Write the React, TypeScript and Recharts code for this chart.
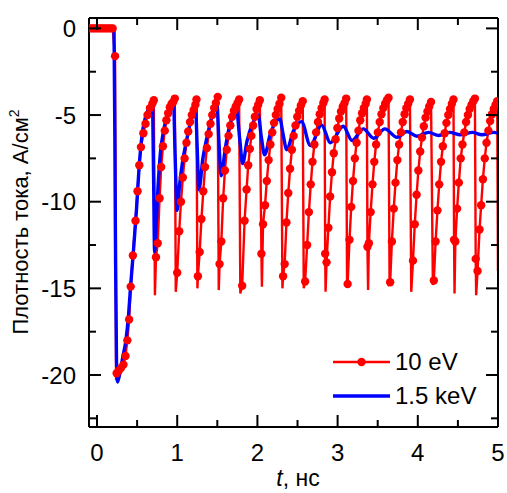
import { ComposedChart, Line, XAxis, YAxis, Legend } from 'recharts';

document.body.style.margin = '0';

const xMajorTicks = [0, 1, 2, 3, 4, 5];
const xMinorTicks = [0.5, 1.5, 2.5, 3.5, 4.5];
const yMajorTicks = [0, -5, -10, -15, -20];
const yMinorTicks = [-2.5, -7.5, -12.5, -17.5, -22.5];

// 10 eV: sampled points (drawn with markers)
const redDots: [number, number][] = [
  [-0.08, 0], [-0.055, 0], [-0.03, 0], [-0.005, 0], [0.02, 0], [0.045, 0], [0.07, 0], [0.095, 0],
  [0.12, 0], [0.145, 0], [0.17, 0], [0.195, 0], [0.225, -1.6], [0.245, -19.9], [0.27, -19.75],
  [0.298, -19.6], [0.33, -19.4], [0.355, -18.9], [0.378, -18.0], [0.4, -16.8], [0.42, -14.9],
  [0.447, -13.1], [0.48, -11.1], [0.505, -9.4], [0.527, -7.9], [0.548, -6.85], [0.578, -6.05],
  [0.605, -5.5], [0.63, -5.0], [0.66, -4.6], [0.69, -4.35], [0.708, -4.15],
  [0.735, -13.2], [0.757, -12.4], [0.78, -9.8], [0.8, -8.0], [0.822, -6.8], [0.845, -5.9],
  [0.865, -5.3], [0.887, -4.9], [0.908, -4.55], [0.93, -4.35], [0.95, -4.25], [0.97, -4.05],
  [1.0, -14.1], [1.025, -11.7], [1.047, -10.0], [1.07, -8.6], [1.092, -7.5], [1.115, -6.6],
  [1.137, -5.95], [1.16, -5.4], [1.182, -5.0], [1.205, -4.7], [1.227, -4.4], [1.24, -4.1],
  [1.258, -14.3], [1.28, -12.9], [1.302, -11.0], [1.325, -9.4], [1.347, -8.0], [1.37, -6.9],
  [1.392, -6.1], [1.415, -5.5], [1.437, -5.0], [1.46, -4.6], [1.482, -4.3], [1.505, -3.95],
  [1.528, -13.6], [1.55, -12.3], [1.573, -9.8], [1.595, -8.2], [1.618, -7.0], [1.64, -6.2],
  [1.662, -5.6], [1.685, -5.1], [1.707, -4.75], [1.73, -4.5], [1.752, -4.3], [1.772, -4.1],
  [1.81, -14.85], [1.84, -11.1], [1.865, -9.3], [1.885, -7.9], [1.906, -6.95], [1.925, -6.2],
  [1.947, -5.6], [1.968, -5.1], [1.99, -4.65], [2.01, -4.4], [2.03, -4.15],
  [2.05, -13.0], [2.07, -11.3], [2.095, -10.2], [2.117, -8.8], [2.14, -7.6], [2.162, -6.7],
  [2.185, -6.0], [2.207, -5.45], [2.23, -5.0], [2.252, -4.65], [2.275, -4.35], [2.297, -4.0],
  [2.32, -14.3], [2.34, -13.6], [2.362, -11.2], [2.385, -9.5], [2.407, -8.1], [2.43, -7.0],
  [2.452, -6.2], [2.475, -5.6], [2.497, -5.1], [2.52, -4.75], [2.542, -4.45], [2.565, -4.2],
  [2.595, -14.6], [2.62, -12.5], [2.642, -10.6], [2.665, -9.0], [2.687, -7.7], [2.71, -6.7],
  [2.732, -6.0], [2.755, -5.4], [2.777, -4.95], [2.8, -4.6], [2.822, -4.3], [2.838, -4.1],
  [2.845, -13.0], [2.862, -13.5], [2.885, -11.5], [2.907, -9.7], [2.93, -8.3], [2.952, -7.2],
  [2.975, -6.4], [2.997, -5.75], [3.02, -5.2], [3.042, -4.8], [3.065, -4.5], [3.087, -4.3], [3.107, -4.05],
  [3.125, -14.75], [3.148, -12.2], [3.17, -10.3], [3.192, -8.8], [3.215, -7.5], [3.237, -6.6],
  [3.26, -5.9], [3.282, -5.3], [3.305, -4.9], [3.327, -4.6], [3.35, -4.35], [3.365, -4.1],
  [3.372, -12.6], [3.39, -12.4], [3.412, -10.6], [3.435, -9.0], [3.457, -7.7], [3.48, -6.7],
  [3.502, -6.0], [3.525, -5.4], [3.547, -4.95], [3.57, -4.6], [3.592, -4.35], [3.615, -4.15], [3.635, -4.0],
  [3.655, -14.65], [3.677, -12.3], [3.7, -10.4], [3.722, -8.9], [3.745, -7.6], [3.767, -6.7],
  [3.79, -6.0], [3.812, -5.4], [3.835, -4.95], [3.857, -4.6], [3.88, -4.35], [3.902, -4.1],
  [3.94, -13.4], [3.962, -11.3], [3.985, -9.6], [4.007, -8.2], [4.03, -7.1], [4.052, -6.3],
  [4.075, -5.65], [4.097, -5.15], [4.12, -4.8], [4.142, -4.5], [4.165, -4.25],
  [4.2, -14.55], [4.222, -12.3], [4.245, -10.5], [4.267, -9.0], [4.29, -7.7], [4.312, -6.8],
  [4.335, -6.05], [4.357, -5.45], [4.38, -5.0], [4.402, -4.65], [4.425, -4.35], [4.445, -4.1],
  [4.452, -12.2], [4.468, -12.3], [4.49, -10.4], [4.512, -8.9], [4.535, -7.5], [4.557, -6.7],
  [4.58, -6.0], [4.602, -5.4], [4.625, -5.0], [4.647, -4.65], [4.67, -4.4], [4.692, -4.2], [4.712, -4.05],
  [4.722, -13.3], [4.745, -14.0], [4.77, -11.6], [4.79, -10.2], [4.812, -8.7], [4.835, -7.5],
  [4.857, -6.6], [4.88, -5.9], [4.902, -5.35], [4.925, -4.95], [4.947, -4.65], [4.97, -4.4], [4.99, -4.2],
];

// 10 eV: bottoms of the sharp drops (line only, no marker)
const redSpikes: [number, number][] = [
  [0.238, -20.3], [0.722, -15.4], [0.982, -15.2], [1.252, -15.0], [1.518, -15.1], [1.787, -15.3],
  [2.056, -14.9], [2.312, -15.0], [2.578, -15.0], [2.85, -15.2], [3.118, -14.9], [3.38, -15.1],
  [3.648, -14.7], [3.918, -15.2], [4.188, -14.8], [4.458, -15.3], [4.728, -15.4], [5.0, -14.0],
];

// 1.5 keV
const bluePoints: [number, number][] = [
  [-0.08, 0], [0.212, 0], [0.228, -11], [0.243, -19.2], [0.256, -20.4], [0.285, -19.9], [0.32, -19.0],
  [0.36, -18.0], [0.39, -16.7], [0.42, -14.8], [0.455, -12.8], [0.49, -10.6], [0.525, -8.0],
  [0.56, -6.2], [0.6, -5.2], [0.645, -4.6], [0.69, -4.3], [0.705, -8.5], [0.718, -12.9],
  [0.735, -11.6], [0.76, -9.2], [0.79, -7.2], [0.83, -5.9], [0.87, -5.1], [0.91, -4.5],
  [0.952, -4.1], [0.975, -7.5], [0.998, -10.5], [1.03, -9.0], [1.07, -7.6], [1.115, -6.5],
  [1.17, -5.3], [1.225, -4.2], [1.25, -7.0], [1.27, -9.3], [1.32, -7.5], [1.385, -6.0],
  [1.44, -4.95], [1.495, -4.35], [1.52, -6.5], [1.548, -8.5], [1.6, -6.9], [1.66, -5.5],
  [1.74, -4.75], [1.78, -6.4], [1.815, -7.8], [1.87, -6.5], [1.94, -5.5], [2.01, -5.0],
  [2.05, -6.3], [2.09, -7.3], [2.16, -6.1], [2.28, -5.22], [2.32, -6.1], [2.365, -7.0],
  [2.45, -5.9], [2.55, -5.38], [2.66, -6.76], [2.8, -5.57], [2.91, -6.6], [3.07, -5.65],
  [3.18, -6.47], [3.32, -5.8], [3.45, -6.34], [3.59, -5.8], [3.74, -6.28], [3.865, -5.95],
  [3.99, -6.22], [4.135, -6.0], [4.26, -6.18], [4.4, -6.0], [4.53, -6.14], [4.68, -6.0],
  [4.8, -6.14], [4.95, -6.0], [5.0, -6.05],
];

const toRows = (pts: [number, number][]) => pts.map(([t, v]) => ({ t, v }));
const redDotRows = toRows(redDots);
const redLineRows = toRows([...redDots, ...redSpikes].sort((a, b) => a[0] - b[0]));
const blueRows = toRows(bluePoints);

const xTicks = [...xMajorTicks, ...xMinorTicks].sort((a, b) => a - b);
const yTicks = [...yMajorTicks, ...yMinorTicks].sort((a, b) => b - a);

const FONT = 'Liberation Sans, Arial, sans-serif';
const RED = '#ff0000';
const BLUE = '#0000ff';

const isMajorX = (v: number) => xMajorTicks.includes(v);
const isMajorY = (v: number) => yMajorTicks.includes(v);

const BottomTick = ({ x, y, payload }: any) => {
  const major = isMajorX(payload.value);
  return (
    <g>
      <line x1={x} x2={x} y1={y} y2={y - (major ? 12 : 7)} stroke="#000" strokeWidth={2} />
      {major && (
        <text x={x} y={y + 34} textAnchor="middle" fontSize={24} fontFamily={FONT} fill="#000">
          {payload.value}
        </text>
      )}
    </g>
  );
};

const TopTick = ({ x, y, payload }: any) => {
  const major = isMajorX(payload.value);
  return <line x1={x} x2={x} y1={y} y2={y + (major ? 12 : 7)} stroke="#000" strokeWidth={2} />;
};

const LeftTick = ({ x, y, payload }: any) => {
  const major = isMajorY(payload.value);
  return (
    <g>
      <line x1={x} x2={x + (major ? 12 : 7)} y1={y} y2={y} stroke="#000" strokeWidth={2} />
      {major && (
        <text x={x - 13} y={y + 8.5} textAnchor="end" fontSize={24} fontFamily={FONT} fill="#000">
          {payload.value}
        </text>
      )}
    </g>
  );
};

const RightTick = ({ x, y, payload }: any) => {
  const major = isMajorY(payload.value);
  return <line x1={x} x2={x - (major ? 12 : 7)} y1={y} y2={y} stroke="#000" strokeWidth={2} />;
};

const LegendBox = () => (
  <svg width={180} height={80}>
    <line x1={8} x2={65} y1={22} y2={22} stroke={RED} strokeWidth={2.4} />
    <circle cx={36.5} cy={22} r={4.2} fill={RED} />
    <text x={70} y={30} fontSize={24} fontFamily={FONT} fill="#000">10 eV</text>
    <line x1={8} x2={65} y1={56} y2={56} stroke={BLUE} strokeWidth={3.4} />
    <text x={70} y={64} fontSize={24} fontFamily={FONT} fill="#000">1.5 keV</text>
  </svg>
);

const axisLine = { stroke: '#000', strokeWidth: 2 };

export default function App() {
  return (
    <ComposedChart width={507} height={493} margin={{ top: 0, right: 0, bottom: 0, left: 0 }}>
      <XAxis
        dataKey="t"
        type="number"
        domain={[-0.1, 5]}
        allowDataOverflow
        ticks={xTicks}
        interval={0}
        tickSize={0}
        tickMargin={0}
        height={66}
        axisLine={axisLine}
        tickLine={false}
        tick={(p: any) => <BottomTick {...p} />}
        label={{
          content: () => (
            <text x={298} y={486} textAnchor="middle" fontSize={23} fontFamily={FONT} fill="#000">
              <tspan fontStyle="italic">t</tspan>, нс
            </text>
          ),
        }}
      />
      <XAxis
        xAxisId="top"
        orientation="top"
        dataKey="t"
        type="number"
        domain={[-0.1, 5]}
        allowDataOverflow
        ticks={xTicks}
        interval={0}
        tickSize={0}
        tickMargin={0}
        height={18}
        axisLine={axisLine}
        tickLine={false}
        tick={(p: any) => <TopTick {...p} />}
      />
      <YAxis
        dataKey="v"
        type="number"
        domain={[-23, 0.6]}
        allowDataOverflow
        ticks={yTicks}
        interval={0}
        tickSize={0}
        tickMargin={0}
        width={89}
        axisLine={axisLine}
        tickLine={false}
        tick={(p: any) => <LeftTick {...p} />}
        label={{
          content: () => (
            <text transform="rotate(-90)" x={-222} y={28} textAnchor="middle" fontSize={22} fontFamily={FONT} fill="#000">
              Плотность тока, А/см<tspan dy={-9} fontSize={14}>2</tspan>
            </text>
          ),
        }}
      />
      <YAxis
        yAxisId="right"
        orientation="right"
        type="number"
        domain={[-23, 0.6]}
        allowDataOverflow
        ticks={yTicks}
        interval={0}
        tickSize={0}
        tickMargin={0}
        width={9}
        axisLine={axisLine}
        tickLine={false}
        tick={(p: any) => <RightTick {...p} />}
      />
      <Line
        data={redLineRows}
        dataKey="v"
        type="linear"
        stroke={RED}
        strokeWidth={2.4}
        dot={false}
        activeDot={false}
        isAnimationActive={false}
        legendType="none"
      />
      <Line
        data={redDotRows}
        dataKey="v"
        type="linear"
        stroke="none"
        strokeWidth={0}
        dot={{ r: 4.2, fill: RED, stroke: RED, strokeWidth: 0 }}
        activeDot={false}
        isAnimationActive={false}
        legendType="none"
      />
      <Line
        data={blueRows}
        dataKey="v"
        type="monotone"
        stroke={BLUE}
        strokeWidth={3.4}
        dot={false}
        activeDot={false}
        isAnimationActive={false}
        legendType="none"
      />
      <Legend
        layout="vertical"
        align="center"
        verticalAlign="middle"
        wrapperStyle={{ left: 325, top: 340, width: 180, height: 80 }}
        content={() => <LegendBox />}
      />
    </ComposedChart>
  );
}
